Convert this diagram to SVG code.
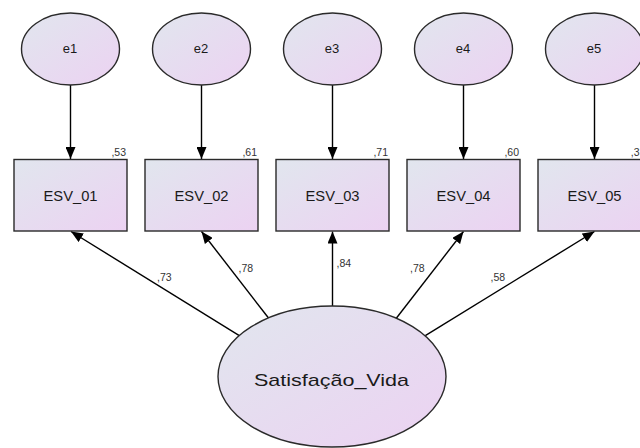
<svg xmlns="http://www.w3.org/2000/svg" width="640" height="448" viewBox="0 0 640 448">
<defs>
<linearGradient id="g" x1="0" y1="0" x2="1" y2="1">
<stop offset="0" stop-color="#e1e6ee"/>
<stop offset="1" stop-color="#ecd2f2"/>
</linearGradient>
<marker id="ah" viewBox="0 0 12 10" refX="12" refY="5" markerWidth="12" markerHeight="10" markerUnits="userSpaceOnUse" orient="auto">
<path d="M0,0 L12,5 L0,10 Z" fill="#000"/>
</marker>
<style>
.sh{fill:url(#g);stroke:#2a2a2a;stroke-width:1.4}
.c{stroke:#000;stroke-width:1.4;fill:none;marker-end:url(#ah)}
.t{font-family:"Liberation Sans",Arial,sans-serif;fill:#1a1a1a;text-anchor:middle}
.v{font-family:"Liberation Sans",Arial,sans-serif;fill:#333;font-size:10.5px}
</style>
</defs>
<rect width="640" height="448" fill="#fff"/>
<g id="connectors">
<line class="c" x1="70.5" y1="85" x2="70.5" y2="159"/>
<line class="c" x1="201.5" y1="85" x2="201.5" y2="159"/>
<line class="c" x1="332.5" y1="85" x2="332.5" y2="159"/>
<line class="c" x1="463.5" y1="85" x2="463.5" y2="159"/>
<line class="c" x1="594.5" y1="85" x2="594.5" y2="159"/>
<line class="c" x1="239.3" y1="335.7" x2="71" y2="231.5"/>
<line class="c" x1="268.7" y1="318.3" x2="201.5" y2="231.5"/>
<line class="c" x1="332.5" y1="306" x2="332.5" y2="231.5"/>
<line class="c" x1="396.3" y1="318.3" x2="463.5" y2="231.5"/>
<line class="c" x1="425.3" y1="335.7" x2="594.5" y2="231.5"/>
<text class="v" x="157" y="280.7">,73</text>
<text class="v" x="238.5" y="272.3">,78</text>
<text class="v" x="336.5" y="266.7">,84</text>
<text class="v" x="410" y="272.3">,78</text>
<text class="v" x="490.5" y="280.7">,58</text>
</g>
<g id="e1"><ellipse class="sh" cx="70.5" cy="49" rx="49" ry="36"/><text class="t" x="70" y="53.3" font-size="13">e1</text></g>
<g id="e2"><ellipse class="sh" cx="201.5" cy="49" rx="49" ry="36"/><text class="t" x="201" y="53.3" font-size="13">e2</text></g>
<g id="e3"><ellipse class="sh" cx="332.5" cy="49" rx="49" ry="36"/><text class="t" x="332" y="53.3" font-size="13">e3</text></g>
<g id="e4"><ellipse class="sh" cx="463.5" cy="49" rx="49" ry="36"/><text class="t" x="463" y="53.3" font-size="13">e4</text></g>
<g id="e5"><ellipse class="sh" cx="594.5" cy="49" rx="49" ry="36"/><text class="t" x="594" y="53.3" font-size="13">e5</text></g>
<g id="ESV_01"><rect class="sh" x="14" y="159.5" width="113" height="71.5"/><text class="t" x="70.5" y="201" font-size="14" textLength="54" lengthAdjust="spacingAndGlyphs">ESV_01</text><text class="v" x="126" y="155.5" text-anchor="end">,53</text></g>
<g id="ESV_02"><rect class="sh" x="145" y="159.5" width="113" height="71.5"/><text class="t" x="201.5" y="201" font-size="14" textLength="54" lengthAdjust="spacingAndGlyphs">ESV_02</text><text class="v" x="257" y="155.5" text-anchor="end">,61</text></g>
<g id="ESV_03"><rect class="sh" x="276" y="159.5" width="113" height="71.5"/><text class="t" x="332.5" y="201" font-size="14" textLength="54" lengthAdjust="spacingAndGlyphs">ESV_03</text><text class="v" x="388" y="155.5" text-anchor="end">,71</text></g>
<g id="ESV_04"><rect class="sh" x="407" y="159.5" width="113" height="71.5"/><text class="t" x="463.5" y="201" font-size="14" textLength="54" lengthAdjust="spacingAndGlyphs">ESV_04</text><text class="v" x="519" y="155.5" text-anchor="end">,60</text></g>
<g id="ESV_05"><rect class="sh" x="538" y="159.5" width="113" height="71.5"/><text class="t" x="594.5" y="201" font-size="14" textLength="54" lengthAdjust="spacingAndGlyphs">ESV_05</text><text class="v" x="639.5" y="155.5" text-anchor="end">,3</text></g>
<g id="Satisfacao_Vida"><ellipse class="sh" cx="332" cy="376.5" rx="114" ry="70.5"/><text class="t" x="331.5" y="385.7" font-size="17" textLength="155" lengthAdjust="spacingAndGlyphs">Satisfação_Vida</text></g>
</svg>
